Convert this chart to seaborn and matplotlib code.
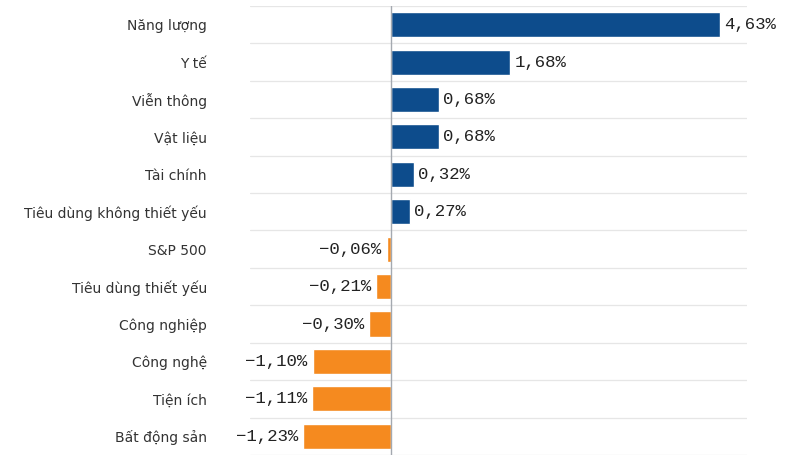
import matplotlib
matplotlib.use("Agg")
import matplotlib.pyplot as plt
import seaborn as sns
import pandas as pd
import numpy as np

categories = ["Năng lượng", "Y tế", "Viễn thông", "Vật liệu", "Tài chính",
              "Tiêu dùng không thiết yếu", "S&P 500", "Tiêu dùng thiết yếu",
              "Công nghiệp", "Công nghệ", "Tiện ích", "Bất động sản"]
values = [4.63, 1.68, 0.68, 0.68, 0.32, 0.27, -0.06, -0.21, -0.30, -1.10, -1.11, -1.23]

BLUE = "#0d4c8c"
ORANGE = "#f58a1f"

df = pd.DataFrame({"cat": categories, "val": values})
df["sign"] = np.where(df["val"] >= 0, "pos", "neg")

sns.set_style("white")
plt.rcParams["font.family"] = ["DejaVu Sans"]

fig = plt.figure(figsize=(7.97, 4.57), dpi=100)
ax = fig.add_axes([0.3137, 0.0044, 0.6236, 0.9825])

sns.barplot(data=df, x="val", y="cat", hue="sign", orient="h",
            palette={"pos": BLUE, "neg": ORANGE}, dodge=False, legend=False,
            width=0.67, ax=ax, saturation=1)

ax.set_xlim(-1.98, 5.01)
ax.set_ylim(len(categories) - 0.5, -0.5)
for b in np.arange(-0.5, len(categories) + 0.5, 1):
    ax.axhline(b, color="#e6e6e6", lw=0.9, zorder=0)
ax.axvline(0, color="#a4a9b0", lw=1.0, zorder=3)

for s in ax.spines.values():
    s.set_visible(False)
ax.set_xticks([])
ax.set_xlabel("")
ax.set_ylabel("")
ax.tick_params(axis="y", length=0, pad=31, labelsize=10.0, labelcolor="#333333")

def fmt(v):
    s = f"{abs(v):.2f}".replace(".", ",") + "%"
    return ("\u2212" + s) if v < 0 else s

for i, v in enumerate(values):
    if v >= 0:
        ax.annotate(fmt(v), (v, i), xytext=(3, 0), textcoords="offset points",
                    ha="left", va="center", fontsize=12.5, color="#222222",
                    family=["Liberation Mono", "DejaVu Sans Mono"])
    else:
        ax.annotate(fmt(v), (v, i), xytext=(-3.5, 0), textcoords="offset points",
                    ha="right", va="center", fontsize=12.5, color="#222222",
                    family=["Liberation Mono", "DejaVu Sans Mono"])

fig.savefig("out.png", dpi=100, facecolor="white")
